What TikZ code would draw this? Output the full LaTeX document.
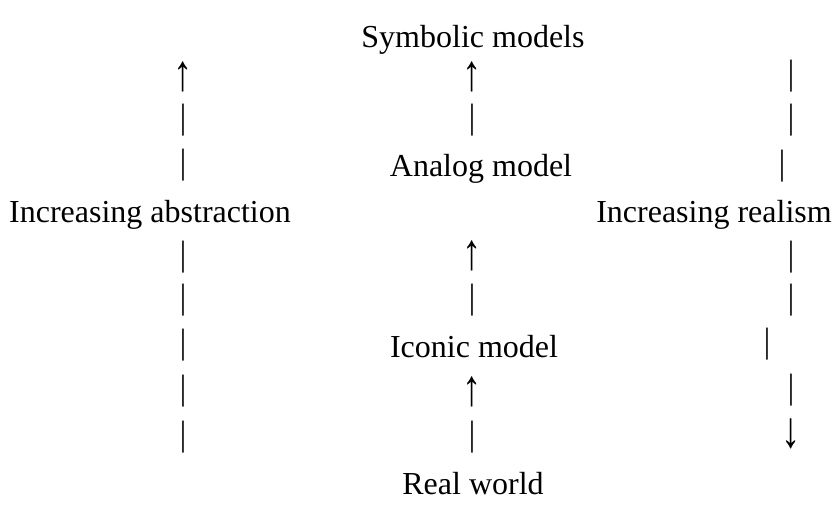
\documentclass[tikz,border=0pt]{standalone}
\usepackage{fontspec}
\setmainfont{Liberation Serif}
\usepackage{tikz}

\newcommand{\upar}{\scalebox{1.2}[1.6]{↑}}
\newcommand{\downar}{\scalebox{1.2}[1.6]{↓}}
\newcommand{\vbar}{\scalebox{1}[1.1]{|}}

\begin{document}
\begin{tikzpicture}[x=0.375pt,y=-0.375pt,
    lbl/.style={inner sep=0pt,font=\fontsize{12}{14}\selectfont}]
    \useasboundingbox (0,0) rectangle (834,506);

    % Left column: abstraction grows upwards
    \begin{scope}
        \node[lbl] (lup) at (183,77) {\upar};
        \node[lbl] (lbarA) at (183,120) {\vbar};
        \node[lbl] (lbarB) at (183,165) {\vbar};
        \node[lbl] (abstr) at (150,215) {Increasing abstraction};
        \node[lbl] (lbarC) at (183,257) {\vbar};
        \node[lbl] (lbarD) at (183,300) {\vbar};
        \node[lbl] (lbarE) at (183,345) {\vbar};
        \node[lbl] (lbarF) at (183,391) {\vbar};
        \node[lbl] (lbarG) at (183,437) {\vbar};
    \end{scope}

    % Middle column: the kinds of model
    \begin{scope}
        \node[lbl] (symb) at (473,40) {Symbolic models};
        \node[lbl] (mupA) at (472,77) {\upar};
        \node[lbl] (mbarA) at (472,120) {\vbar};
        \node[lbl] (analog) at (481,169) {Analog model};
        \node[lbl] (mupB) at (472,256) {\upar};
        \node[lbl] (mbarB) at (472,300) {\vbar};
        \node[lbl] (iconic) at (474,347) {Iconic model};
        \node[lbl] (mupC) at (472,392) {\upar};
        \node[lbl] (mbarC) at (472,437) {\vbar};
        \node[lbl] (real) at (473,484) {Real world};
    \end{scope}

    % Right column: realism grows downwards
    \begin{scope}
        \node[lbl] (rbarA) at (791,76) {\vbar};
        \node[lbl] (rbarB) at (791,120) {\vbar};
        \node[lbl] (rbarC) at (782,166) {\vbar};
        \node[lbl] (realism) at (714,215) {Increasing realism};
        \node[lbl] (rbarD) at (791,257) {\vbar};
        \node[lbl] (rbarE) at (791,300) {\vbar};
        \node[lbl] (rbarF) at (767,344) {\vbar};
        \node[lbl] (rbarG) at (791,390) {\vbar};
        \node[lbl] (rdown) at (791,434) {\downar};
    \end{scope}
\end{tikzpicture}
\end{document}
